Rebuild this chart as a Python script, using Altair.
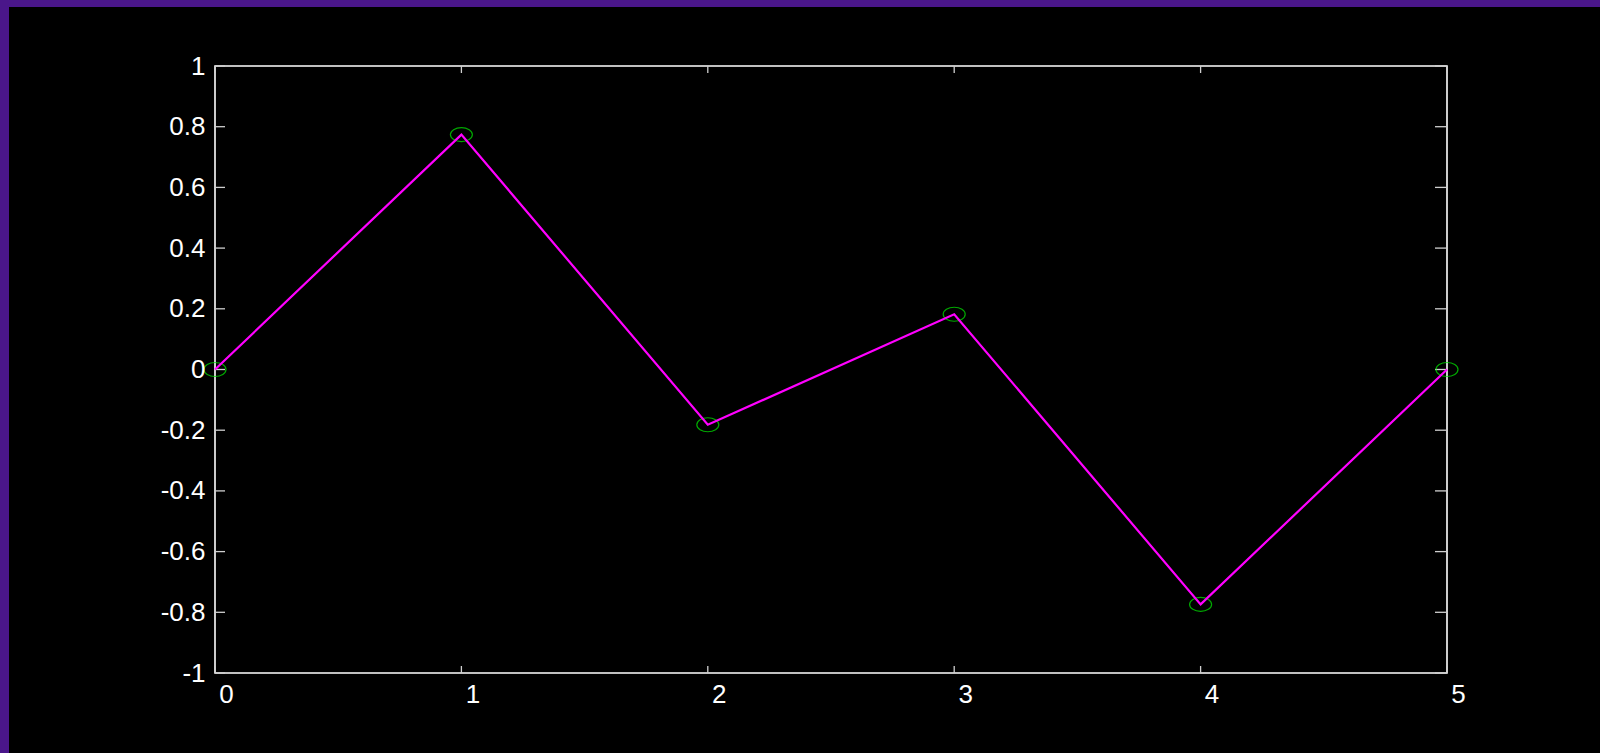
import altair as alt
import pandas as pd

# Sample values
xs = [0, 1, 2, 3, 4, 5]
ys = [0.0, 0.774, -0.182, 0.182, -0.774, 0.0]

# Tick values on both axes
x_ticks = [0, 1, 2, 3, 4, 5]
y_ticks = [-1, -0.8, -0.6, -0.4, -0.2, 0, 0.2, 0.4, 0.6, 0.8, 1]

W, H = 1232, 607
PAD = {"left": 215, "top": 66, "right": 153, "bottom": 80}

df = pd.DataFrame({"x": xs, "y": ys})
xt = pd.DataFrame({"t": x_ticks})
yt = pd.DataFrame({"t": y_ticks})

x_scale = alt.Scale(domain=[0, 5], nice=False, zero=False)
y_scale = alt.Scale(domain=[-1, 1], nice=False, zero=False)

FONT = "Liberation Sans"
label_expr = "'' + datum.value"

x_axis = alt.Axis(values=x_ticks, labelExpr=label_expr, ticks=False, domain=False,
                  grid=False, labelColor="white", labelFont=FONT, labelFontSize=26,
                  labelPadding=8, labelOffset=11, labelAlign="center", title=None,
                  zindex=2)
y_axis = alt.Axis(values=y_ticks, labelExpr=label_expr, ticks=False, domain=False,
                  grid=False, labelColor="white", labelFont=FONT, labelFontSize=26,
                  labelPadding=10, title=None, zindex=2)

# purple page edge along the top and left
edge = "#4a168a"
blank = alt.Data(values=[{}])
left_strip = alt.Chart(blank).mark_rect(color=edge, clip=False).encode(
    x=alt.value(-PAD["left"]), x2=alt.value(-(PAD["left"] - 9)),
    y=alt.value(-PAD["top"]), y2=alt.value(H + PAD["bottom"]),
)
top_strip = alt.Chart(blank).mark_rect(color=edge, clip=False).encode(
    x=alt.value(-PAD["left"]), x2=alt.value(W + PAD["right"]),
    y=alt.value(-PAD["top"]), y2=alt.value(-(PAD["top"] - 7)),
)

tick_color = "#cfcfcf"
xb = alt.Chart(xt).mark_rule(color=tick_color, strokeWidth=1.3).encode(
    x=alt.X("t:Q", scale=x_scale, axis=x_axis), y=alt.value(H), y2=alt.value(H - 7))
xtop = alt.Chart(xt).mark_rule(color=tick_color, strokeWidth=1.3).encode(
    x=alt.X("t:Q", scale=x_scale), y=alt.value(0), y2=alt.value(7))
yl = alt.Chart(yt).mark_rule(color=tick_color, strokeWidth=1.3).encode(
    y=alt.Y("t:Q", scale=y_scale, axis=y_axis), x=alt.value(0), x2=alt.value(10))
yr = alt.Chart(yt).mark_rule(color=tick_color, strokeWidth=1.3).encode(
    y=alt.Y("t:Q", scale=y_scale), x=alt.value(W), x2=alt.value(W - 12))

ellipse = "M -1 0 A 1 0.636 0 1 0 1 0 A 1 0.636 0 1 0 -1 0 Z"
points = alt.Chart(df).mark_point(shape=ellipse, size=484, filled=False,
                                  color="#00f000", strokeWidth=1.2, clip=False).encode(
    x=alt.X("x:Q", scale=x_scale), y=alt.Y("y:Q", scale=y_scale))
line = alt.Chart(df).mark_line(color="#ff00ff", strokeWidth=2.2, clip=False).encode(
    x=alt.X("x:Q", scale=x_scale), y=alt.Y("y:Q", scale=y_scale))

chart = alt.layer(left_strip, top_strip, xb, xtop, yl, yr, points, line).properties(
    width=W, height=H,
    background="black",
    padding=PAD,
    autosize=alt.AutoSizeParams(type="none"),
).configure_view(stroke="white", strokeWidth=1.6, fill=None)

chart.save("out.html", embed_options={"renderer": "svg", "actions": False})
